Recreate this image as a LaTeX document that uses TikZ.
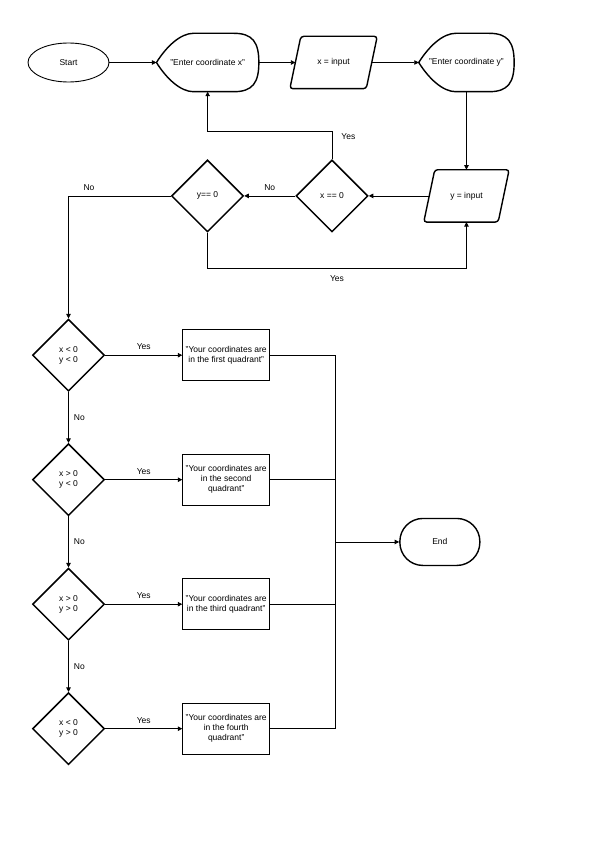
\documentclass[tikz,border=0pt]{standalone}
\usepackage{fontspec}
\setmainfont{Liberation Sans}
\usepackage{tikz}
\usetikzlibrary{positioning,arrows.meta,calc,shapes.geometric}

\begin{document}
\begin{tikzpicture}[font=\fontsize{8.5}{10}\selectfont,
  startnd/.style={ellipse, draw, line width=0.9pt, minimum width=81pt, minimum height=39pt, inner sep=0pt},
  disp/.style={rectangle, inner sep=0pt, minimum height=58pt},
  io/.style={rectangle, inner sep=0pt, minimum width=76pt, minimum height=52pt},
  dec/.style={diamond, aspect=1, draw, line width=1.5pt, minimum width=72pt, minimum height=72pt, inner sep=0pt, align=center},
  outbox/.style={rectangle, draw, line width=0.9pt, minimum width=87pt, minimum height=51pt, inner sep=1pt, align=center},
  term/.style={rectangle, rounded corners=23pt, draw, line width=1.4pt, minimum width=80pt, minimum height=47pt},
  shp/.style={line width=1.4pt},
  ln/.style={line width=0.8pt},
  arr/.style={ln, -{Triangle[length=4.5pt,width=4.5pt]}},
  lab/.style={inner sep=2pt}]
\useasboundingbox (0,0) rectangle (599pt,-848pt);
% top row
\node[startnd] (start) at (68.5pt,-62.5pt) {Start};
\node[disp, right=47pt of start, minimum width=102pt] (ex) {"Enter coordinate x"};
\node[io, right=36.5pt of ex] (xin) {x = input};
\node[disp, right=47pt of xin, minimum width=95pt] (ey) {"Enter coordinate y"};
\node[io, below=78pt of ey, minimum width=74pt] (yin) {y = input};
\node[dec, left=60.5pt of yin] (xz) {x == 0};
\node[dec, left=51pt of xz] (yz) {y== 0};
% display outlines
\foreach \n in {ex,ey}
  \draw[shp] (\n.west) .. controls ($(\n.west)+(10pt,16pt)$) and ($(\n.north west)+(24pt,0)$) .. ($(\n.north west)+(37pt,0)$)
    -- ($(\n.north east)+(-25pt,0)$) .. controls ($(\n.north east)+(-6pt,0)$) and ($(\n.east)+(0,20pt)$) .. (\n.east)
    .. controls ($(\n.east)+(0,-20pt)$) and ($(\n.south east)+(-6pt,0)$) .. ($(\n.south east)+(-25pt,0)$)
    -- ($(\n.south west)+(37pt,0)$) .. controls ($(\n.south west)+(24pt,0)$) and ($(\n.west)+(10pt,-16pt)$) .. cycle;
% input outlines
\foreach \n in {xin,yin}
  \draw[shp, rounded corners=3pt] ($(\n.north west)+(5.5pt,0)$) -- ($(\n.north east)+(5.5pt,0)$)
    -- ($(\n.south east)+(-5.5pt,0)$) -- ($(\n.south west)+(-5.5pt,0)$) -- cycle;
% quadrant tests
\node[dec, below=236pt of start] (d1) {x < 0\\y < 0};
\node[dec, below=51pt of d1] (d2) {x > 0\\y < 0};
\node[dec, below=51pt of d2] (d3) {x > 0\\y > 0};
\node[dec, below=51pt of d3] (d4) {x < 0\\y > 0};
\node[outbox, right=77pt of d1] (b1) {"Your coordinates are\\in the first quadrant"};
\node[outbox, right=77pt of d2] (b2) {"Your coordinates are\\in the second\\quadrant"};
\node[outbox, right=77pt of d3] (b3) {"Your coordinates are\\in the third quadrant"};
\node[outbox, right=77pt of d4] (b4) {"Your coordinates are\\in the fourth\\quadrant"};
\coordinate (jn) at ($(b1.east)+(65pt,0)$);
\coordinate (mid) at ($(b2.east)!0.5!(b3.east)$);
\node[term, right=129pt of mid] (end) {End};
% connectors
\draw[arr] (start.east) -- (ex.west);
\draw[arr] (ex.east) -- (xin.west);
\draw[arr] (xin.east) -- (ey.west);
\draw[arr] (ey.south) -- (yin.north);
\draw[arr] (yin.west) -- (xz.east);
\draw[arr] (xz.west) -- node[lab, above=3pt]{No} (yz.east);
\draw[arr] (xz.north) -- ++(0,28pt) node[lab, anchor=north west, xshift=7pt]{Yes} -| (ex.south);
\draw[arr] (yz.south) -- ++(0,-36pt) -| node[lab, below=5pt, pos=0.25]{Yes} (yin.south);
\draw[arr] (yz.west) -| node[lab, above=3pt, pos=0.4]{No} (d1.north);
\foreach \i/\j in {1/2,2/3,3/4}
  \draw[arr] (d\i) -- node[lab, right=3pt]{No} (d\j);
\foreach \i in {1,...,4} {
  \draw[arr] (d\i) -- node[lab, above=3pt]{Yes} (b\i);
  \draw[ln] (b\i.east) -- (b\i.east -| jn);
}
\draw[ln] (b1.east -| jn) -- (b4.east -| jn);
\draw[arr] (mid -| jn) -- (end.west);
\end{tikzpicture}
\end{document}
